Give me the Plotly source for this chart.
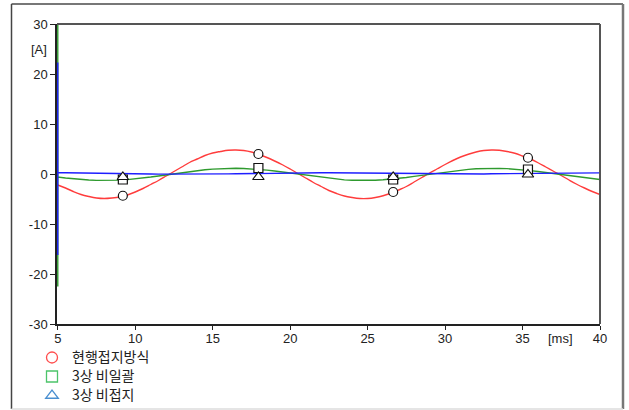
import plotly.graph_objects as go

# Time axis (ms), sampled every 0.5 ms from 5 to 40
t = [5.0 + 0.5 * k for k in range(71)]

# 현행접지방식 current [A]
red_vals = [-2.2, -2.8, -3.5, -4.1, -4.5, -4.8, -4.9, -4.8, -4.6, -4.2,
            -3.6, -2.9, -2.1, -1.3, -0.4, 0.5, 1.4, 2.3, 3.0, 3.7,
            4.2, 4.5, 4.75, 4.8, 4.7, 4.4, 3.9, 3.3, 2.6, 1.85,
            1.0, 0.1, -0.8, -1.7, -2.5, -3.3, -3.9, -4.4, -4.7, -4.9,
            -4.9, -4.7, -4.35, -3.85, -3.2, -2.5, -1.6, -0.7, 0.2, 1.05,
            1.9, 2.7, 3.4, 3.95, 4.4, 4.7, 4.8, 4.75, 4.5, 4.15,
            3.6, 3.0, 2.25, 1.4, 0.55, -0.3, -1.2, -2.05, -2.8, -3.5,
            -4.1]

# 3상 비일괄 current [A]
green_vals = [-0.59, -0.79, -0.96, -1.11, -1.21, -1.28, -1.30, -1.28, -1.22, -1.12,
              -0.98, -0.81, -0.61, -0.40, -0.17, 0.06, 0.28, 0.49, 0.68, 0.85,
              0.98, 1.07, 1.13, 1.14, 1.11, 1.03, 0.92, 0.77, 0.59, 0.39,
              0.17, -0.06, -0.28, -0.51, -0.71, -0.90, -1.05, -1.17, -1.25, -1.30,
              -1.29, -1.25, -1.16, -1.04, -0.88, -0.69, -0.48, -0.26, -0.03, 0.19,
              0.41, 0.61, 0.78, 0.93, 1.04, 1.11, 1.14, 1.13, 1.07, 0.97,
              0.84, 0.68, 0.49, 0.28, 0.06, -0.17, -0.39, -0.60, -0.80, -0.97,
              -1.09]

# 3상 비접지 current [A]
blue_vals = [0.25, 0.25, 0.24, 0.23, 0.21, 0.19, 0.16, 0.14, 0.11, 0.08,
             0.05, 0.03, 0.01, -0.02, -0.03, -0.04, -0.05, -0.05, -0.05, -0.04,
             -0.02, 0.0, 0.02, 0.04, 0.07, 0.10, 0.13, 0.15, 0.18, 0.20,
             0.22, 0.24, 0.25, 0.25, 0.25, 0.24, 0.23, 0.21, 0.19, 0.17,
             0.14, 0.11, 0.09, 0.06, 0.03, 0.01, -0.01, -0.03, -0.04, -0.05,
             -0.05, -0.05, -0.04, -0.03, -0.01, 0.01, 0.04, 0.06, 0.09, 0.12,
             0.15, 0.17, 0.19, 0.21, 0.23, 0.24, 0.25, 0.25, 0.25, 0.24,
             0.23]

# Switching transient at t = 5 ms (vertical excursions)
t_spike = [5.0, 5.0]
green_spike = [30.0, -22.5]
blue_spike = [22.3, -16.2]

# Marker sample points
t_mark = [9.2, 17.95, 26.65, 35.35]
red_mark = [-4.35, 4.0, -3.6, 3.25]
green_mark = [-1.1, 1.2, -1.1, 0.9]
blue_mark = [-0.6, -0.6, -0.6, -0.1]

series_names = ["현행접지방식", "3상 비일괄", "3상 비접지"]
x_ticks = [5, 10, 15, 20, 25, 30, 35, 40]
y_ticks = [-30, -20, -10, 0, 10, 20, 30]

RED = "#ff3c3c"
GREEN = "#2e9a2e"
BLUE = "#1e1eff"

fig = go.Figure()

line_w = 1.4
fig.add_trace(go.Scatter(x=t, y=red_vals, mode="lines", showlegend=False,
                         line=dict(color=RED, width=line_w, shape="spline")))
fig.add_trace(go.Scatter(x=t_spike + t, y=green_spike + green_vals, mode="lines",
                         showlegend=False, line=dict(color=GREEN, width=line_w)))
fig.add_trace(go.Scatter(x=t_spike + t, y=blue_spike + blue_vals, mode="lines",
                         showlegend=False, line=dict(color=BLUE, width=line_w)))

mk_line = dict(color="#111111", width=1.2)
fig.add_trace(go.Scatter(x=t_mark, y=red_mark, mode="markers", showlegend=False,
                         marker=dict(symbol="circle", size=9, color="white", line=mk_line)))
fig.add_trace(go.Scatter(x=t_mark, y=green_mark, mode="markers", showlegend=False,
                         marker=dict(symbol="square", size=9, color="white", line=mk_line)))
fig.add_trace(go.Scatter(x=t_mark, y=blue_mark, mode="markers", showlegend=False,
                         marker=dict(symbol="triangle-up", size=10, color="white", line=mk_line)))

# Legend entries (open coloured symbols); entry text set larger than the
# legend base font so the rows stay tightly packed
legend_syms = ["circle-open", "square-open", "triangle-up-open"]
legend_cols = ["#ff4d4d", "#4cc46a", "#4a8fd0"]
for name, sym, col in zip(series_names, legend_syms, legend_cols):
    fig.add_trace(go.Scatter(x=[None], y=[None], mode="markers",
                             name=f'<span style="font-size:14px">{name}</span>',
                             marker=dict(symbol=sym, size=11, color=col,
                                         line=dict(color=col, width=1.3))))

# Plot-area geometry in pixels
L, R, T, B = 57, 29, 24, 86
W, H = 629, 410
pw, ph = W - L - R, H - T - B


def px_x(p):
    return (p - L) / pw


def px_y(p):
    return (H - B - p) / ph


tick_font = dict(family="Liberation Sans, Arial, sans-serif", size=13, color="#222222")

fig.update_layout(
    width=W, height=H,
    margin=dict(l=L, r=R, t=T, b=B, autoexpand=False),
    paper_bgcolor="white", plot_bgcolor="white",
    showlegend=True,
    legend=dict(x=px_x(32), y=px_y(343), xanchor="left", yanchor="top",
                bgcolor="rgba(0,0,0,0)", borderwidth=0, tracegroupgap=0,
                itemwidth=30,
                font=dict(family="Noto Sans CJK KR", size=11.5, color="#222222")),
    xaxis=dict(range=[4.95, 40], tickvals=x_ticks, ticktext=[str(v) for v in x_ticks],
               showgrid=False, zeroline=False, showline=True, linecolor="#222222",
               linewidth=1.5, ticks="outside", ticklen=4, tickwidth=1.2,
               tickcolor="#222222", tickfont=tick_font, layer="below traces",
               ticklabelstandoff=-2),
    yaxis=dict(range=[-30, 30], tickvals=y_ticks, ticktext=[str(v) for v in y_ticks],
               showgrid=False, zeroline=False, showline=True, linecolor="#222222",
               linewidth=1.5, ticks="outside", ticklen=5, tickwidth=1.2,
               tickcolor="#222222", tickfont=tick_font, layer="below traces"),
)

# Top and right edges of the plotting frame
fig.add_shape(type="line", xref="paper", yref="paper", x0=0, x1=1, y0=1, y1=1,
              line=dict(color="#555555", width=2))
fig.add_shape(type="line", xref="paper", yref="paper", x0=1, x1=1, y0=0, y1=1,
              line=dict(color="#555555", width=2))

# Outer panel border
fx0, fx1 = px_x(11.5), px_x(623)
fy0, fy1 = px_y(409), px_y(4)
fig.add_shape(type="line", xref="paper", yref="paper", x0=fx0, x1=fx1, y0=fy1, y1=fy1,
              line=dict(color="#777777", width=2))
fig.add_shape(type="line", xref="paper", yref="paper", x0=fx0, x1=fx0, y0=fy0, y1=fy1,
              line=dict(color="#444444", width=1.5))
fig.add_shape(type="line", xref="paper", yref="paper", x0=fx1, x1=fx1, y0=fy0, y1=fy1,
              line=dict(color="#777777", width=2.5))
fig.add_shape(type="line", xref="paper", yref="paper", x0=fx0, x1=fx1, y0=fy0, y1=fy0,
              line=dict(color="#dddddd", width=1.5))

# Unit labels
fig.add_annotation(text="[A]", xref="paper", yref="y", x=px_x(48.5), y=25,
                   xanchor="right", yanchor="middle", showarrow=False, font=tick_font)
fig.add_annotation(text="[ms]", xref="x", yref="paper", x=37.45, y=0,
                   xanchor="center", yanchor="top", yshift=-5, showarrow=False,
                   font=tick_font)

fig.write_html("out.html")
